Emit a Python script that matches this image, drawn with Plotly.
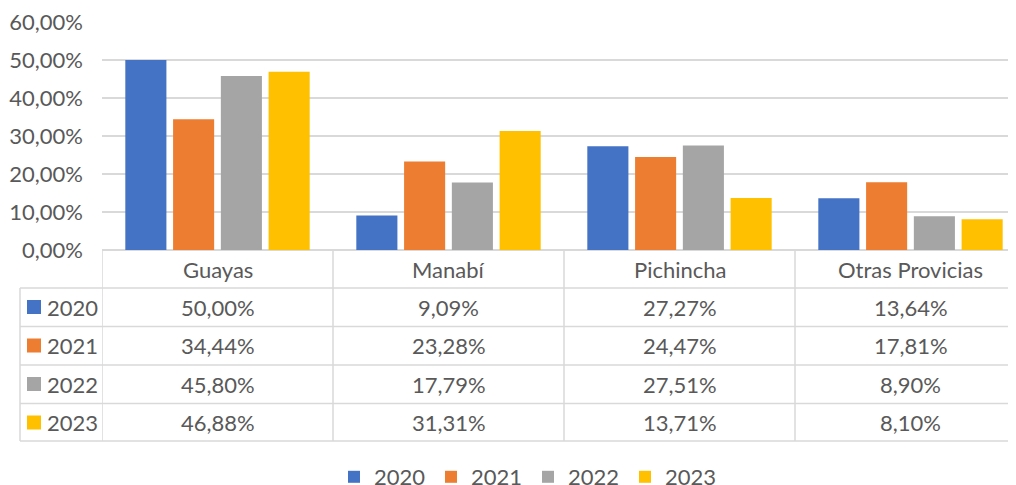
import plotly.graph_objects as go

categories = ["Guayas", "Manabí", "Pichincha", "Otras Provicias"]
years = ["2020", "2021", "2022", "2023"]
values_2020 = [50.00, 9.09, 27.27, 13.64]
values_2021 = [34.44, 23.28, 24.47, 17.81]
values_2022 = [45.80, 17.79, 27.51, 8.90]
values_2023 = [46.88, 31.31, 13.71, 8.10]
series = [values_2020, values_2021, values_2022, values_2023]
colors = ["#4472C4", "#ED7D31", "#A5A5A5", "#FFC000"]
y_ticks = [0, 10, 20, 30, 40, 50, 60]

FONT = "Lato"
TXT = "#595959"
GRID = "#D9D9D9"


def pct(v):
    return f"{v:.2f}%".replace(".", ",")


# the page body has an 8px default margin: size the figure to fill the rest
OFF = 8
W, H = 1016 - OFF, 485 - OFF
L, T = 102 - OFF, 22 - OFF
B = H - (250 - OFF)
PLOT_H = H - T - B  # 228
PLOT_W = W - L      # 914


def py(p):
    """window pixel y -> paper y"""
    return ((H - B) - (p - OFF)) / PLOT_H


def px(p):
    """window pixel x -> paper x"""
    return (p - OFF - L) / PLOT_W


fig = go.Figure()
for yr, vals, c in zip(years, series, colors):
    fig.add_trace(go.Bar(
        x=categories, y=vals, name=yr,
        marker=dict(color=c, line=dict(width=0)),
    ))

shapes = []
ann = []
line_style = dict(color=GRID, width=1.5)

# table: vertical separators between categories
for i in range(len(categories)):
    shapes.append(dict(type="line", xref="x", yref="paper",
                       x0=i - 0.5, x1=i - 0.5, y0=py(250), y1=py(441),
                       line=line_style, layer="above"))
# horizontal rows
row_lines = [288, 326.5, 365, 403.5, 441]
for r in row_lines:
    shapes.append(dict(type="line", xref="paper", yref="paper",
                       x0=px(20), x1=1.0, y0=py(r), y1=py(r),
                       line=line_style))
# left column edge
shapes.append(dict(type="line", xref="paper", yref="paper",
                   x0=px(20), x1=px(20), y0=py(288), y1=py(441),
                   line=line_style))

# header labels
for i, cat in enumerate(categories):
    ann.append(dict(x=i, y=py(269), xref="x", yref="paper", text=cat,
                    showarrow=False, font=dict(family=FONT, size=22, color=TXT),
                    xanchor="center", yanchor="middle"))

row_centers = [307, 345.5, 384, 422.5]
for yr, vals, c, rc in zip(years, series, colors, row_centers):
    shapes.append(dict(type="rect", xref="paper", yref="paper",
                       x0=px(27), x1=px(41), y0=py(rc - 7), y1=py(rc + 7),
                       fillcolor=c, line=dict(width=0)))
    ann.append(dict(x=px(45), y=py(rc), xref="paper", yref="paper", text=yr,
                    showarrow=False, font=dict(family=FONT, size=22, color=TXT),
                    xanchor="left", yanchor="middle"))
    for i, v in enumerate(vals):
        ann.append(dict(x=i, y=py(rc), xref="x", yref="paper", text=pct(v),
                        showarrow=False, font=dict(family=FONT, size=22, color=TXT),
                        xanchor="center", yanchor="middle"))

fig.update_layout(
    width=W, height=H,
    margin=dict(l=L, r=0, t=T, b=B, pad=0, autoexpand=False),
    paper_bgcolor="white", plot_bgcolor="white",
    separators=",.",
    barmode="group", bargap=0.173, bargroupgap=0.14,
    font=dict(family=FONT, size=22, color=TXT),
    xaxis=dict(range=[-0.5, -0.5 + PLOT_W / 231.0], showticklabels=False,
               showgrid=False, zeroline=False, showline=False, fixedrange=True,
               automargin=False),
    yaxis=dict(range=[0, 60], tickmode="array", tickvals=y_ticks,
               ticktext=[pct(v) for v in y_ticks],
               showgrid=True, gridcolor=GRID, gridwidth=1.5,
               zeroline=True, zerolinecolor=GRID, zerolinewidth=1.5,
               showline=False, ticks="", ticklabelstandoff=18, automargin=False,
               ticklabeloverflow="allow",
               tickfont=dict(family=FONT, size=22, color=TXT)),
    legend=dict(orientation="h", x=px(334), xanchor="left",
                y=py(477), yanchor="middle", entrywidth=52, itemwidth=30,
                font=dict(family=FONT, size=22, color=TXT),
                itemclick=False, itemdoubleclick=False),
    shapes=shapes, annotations=ann,
    showlegend=True,
)

fig.write_html("out.html")
